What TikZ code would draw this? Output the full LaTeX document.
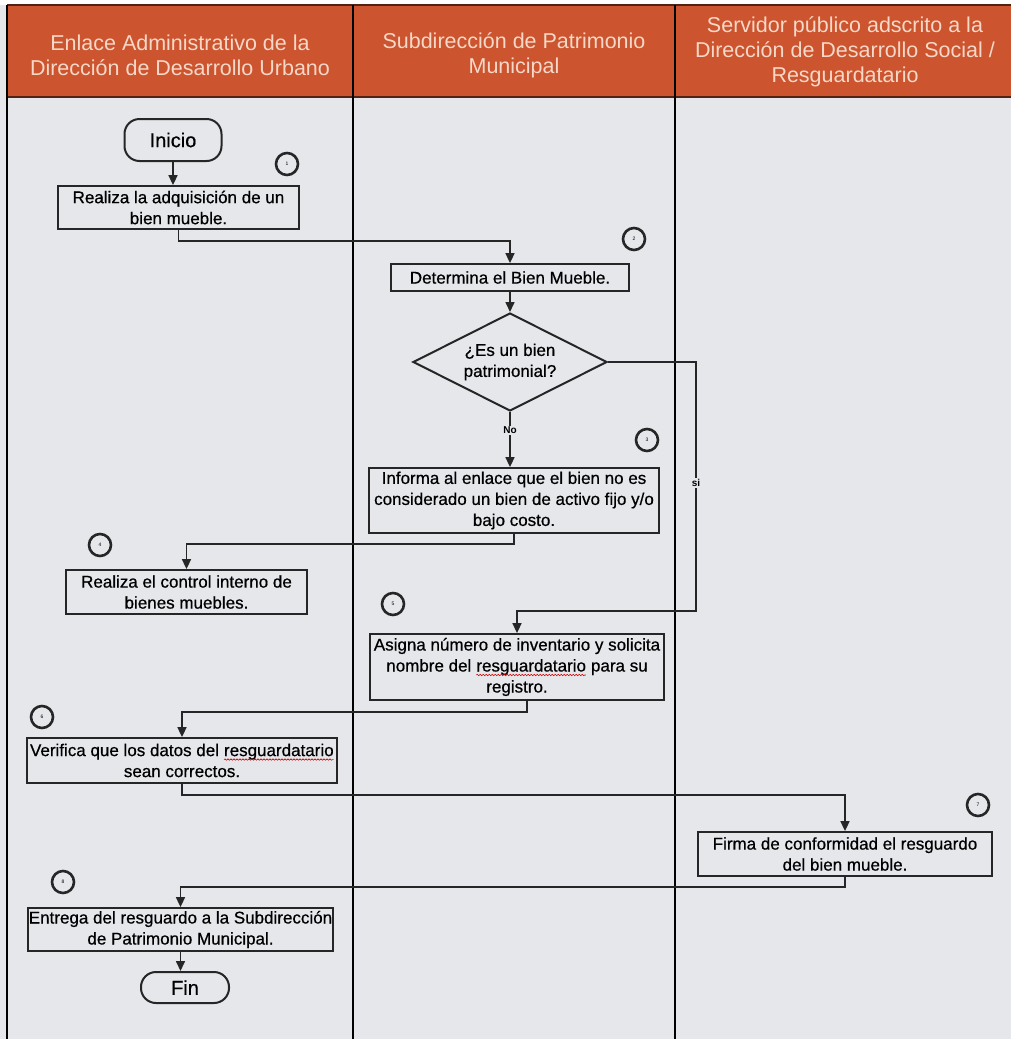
\documentclass[tikz,border=0pt]{standalone}
\usepackage{fontspec}
\setmainfont{Liberation Sans}
\newfontfamily\grueso[FakeBold=0.6]{Liberation Sans}
\usetikzlibrary{arrows.meta,shapes.geometric,decorations.pathmorphing}
\definecolor{naranja}{RGB}{204,84,46}
\definecolor{fondo}{RGB}{229,231,235}
\definecolor{letra}{RGB}{246,216,200}
\newcommand{\ondulado}[1]{\tikz[baseline=(p.base)]{\node[draw=none,inner sep=0pt,outer sep=0pt,minimum size=0pt] (p) {#1};
  \draw[red!85!black,line width=0.6pt,decorate,decoration={snake,amplitude=0.7pt,segment length=3pt}]
    ([yshift=-3.5pt]p.base west) -- ([yshift=-3.5pt]p.base east);}}

\begin{document}
\begin{tikzpicture}[x=1pt,y=-1pt,
  caja/.style={draw=black!85,line width=1.8pt,align=center,inner sep=1pt,font=\grueso\fontsize{17}{21}\selectfont},
  term/.style={draw=black!85,line width=2pt,rounded corners=15pt,font=\grueso\fontsize{20}{24}\selectfont},
  num/.style={circle,draw=black!85,line width=2.6pt,minimum size=22pt,inner sep=0pt,font=\fontsize{5}{5}\selectfont},
  flecha/.style={draw=black!85,line width=1.6pt,-{Triangle[length=10pt,width=9pt]}},
  etiq/.style={fill=fondo,inner sep=1pt,font=\bfseries\fontsize{10}{10}\selectfont},
  encab/.style={text=letra,align=center,font=\fontsize{21.5}{25}\selectfont}]
\useasboundingbox (0,0) rectangle (1011,1039);
\fill[white!96!fondo] (0,0) rectangle (1011,5);
\fill[fondo] (0,5) rectangle (1011,1039);
\fill[naranja] (7,5) rectangle (1011,97);
\draw[line width=2.5pt,black!60!naranja] (7,5) -- (1011,5) (7,97) -- (1011,97);
\foreach \x in {7,353,675}
  \draw[line width=1.4pt] (\x,5) -- (\x,1039);

\node[encab] (h1) at (180,55) {Enlace Administrativo de la\\Dirección de Desarrollo Urbano};
\node[encab] (h2) at (514,55) {Subdirección de Patrimonio\\Municipal};
\node[encab] (h3) at (845,52) {Servidor público adscrito a la\\Dirección de Desarrollo Social /\\Resguardatario};

\node[term,minimum width=97pt,minimum height=42pt] (ini) at (173,140) {Inicio};
\node[caja,minimum width=241pt,minimum height=43pt] (b1) at (178.5,207.5) {Realiza la adquisición de un\\bien mueble.};
\node[caja,minimum width=238pt,minimum height=27pt] (b2) at (510,277.5) {Determina el Bien Mueble.};
\node[draw=black!85,line width=2pt,diamond,shape aspect=2,inner sep=0pt,minimum width=194pt,minimum height=98pt,align=center,font=\grueso\fontsize{17}{21}\selectfont] (dia) at (510,362) {¿Es un bien\\patrimonial?};
\node[caja,minimum width=290pt,minimum height=65pt] (b3) at (514,500.5) {Informa al enlace que el bien no es\\considerado un bien de activo fijo y/o\\bajo costo.};
\node[caja,minimum width=241pt,minimum height=44pt] (b4) at (186.5,592) {Realiza el control interno de\\bienes muebles.};
\node[caja,minimum width=294pt,minimum height=66pt] (b5) at (517,667) {Asigna número de inventario y solicita\\nombre del \ondulado{resguardatario} para su\\registro.};
\node[caja,minimum width=310pt,minimum height=45pt] (b6) at (182,760.5) {Verifica que los datos del \ondulado{resguardatario}\\sean correctos.};
\node[caja,minimum width=294pt,minimum height=44pt] (b7) at (845,854) {Firma de conformidad el resguardo\\del bien mueble.};
\node[caja,minimum width=305pt,minimum height=43pt] (b8) at (180.5,929.5) {Entrega del resguardo a la Subdirección\\de Patrimonio Municipal.};
\node[term,minimum width=88pt,minimum height=31pt] (fin) at (185,987.5) {Fin};

\node[num] (c1) at (287,164) {1};
\node[num] (c2) at (634,239) {2};
\node[num] (c3) at (647,440) {3};
\node[num] (c4) at (100,545) {4};
\node[num] (c5) at (393,604) {5};
\node[num] (c6) at (42,717) {6};
\node[num] (c7) at (978,805) {7};
\node[num] (c8) at (63,882) {8};

\coordinate (r5) at (696,611);

\draw[flecha] (ini.south) -- (ini.south |- b1.north);
\draw[flecha] (b1.south) -- ++(0,11) -| (b2.north);
\draw[flecha] (b2.south) -- (dia.north);
\draw[flecha] (dia.south) -- node[etiq,pos=0.33] (no) {No} (dia.south |- b3.north);
\draw[flecha] (dia.east) -| (r5) -| (b5.north);
\node[etiq] (si) at (696,483) {si};
\draw[flecha] (b3.south) -- ++(0,10) -| (b4.north);
\draw[flecha] ([xshift=10pt]b5.south) -- ++(0,11) -| (b6.north);
\draw[flecha] (b6.south) -- ++(0,11) -| (b7.north);
\draw[flecha] (b7.south) -- ++(0,10) -| (b8.north);
\draw[flecha] (b8.south) -- (b8.south |- fin.north);
\end{tikzpicture}
\end{document}
